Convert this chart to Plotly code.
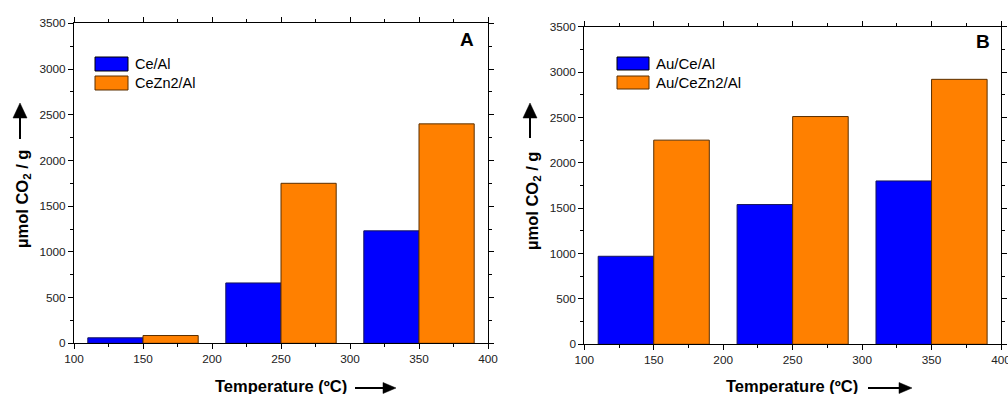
import plotly.graph_objects as go

# ---------------- data ----------------
temps = [150, 250, 350]
ce_al = [60, 660, 1230]
cezn2_al = [85, 1750, 2400]
au_ce_al = [970, 1540, 1800]
au_cezn2_al = [2250, 2510, 2920]
names_a = ["Ce/Al", "CeZn2/Al"]
names_b = ["Au/Ce/Al", "Au/CeZn2/Al"]
panel_labels = ["A", "B"]
x_ticks = [100, 150, 200, 250, 300, 350, 400]
y_ticks = [0, 500, 1000, 1500, 2000, 2500, 3000, 3500]

W, H = 1008, 394
BLUE = "#0000FF"
ORANGE = "#FF8000"
BLUE_EDGE = "#15155a"
ORANGE_EDGE = "#5a2f00"
FONT = "Liberation Sans, Arial, sans-serif"


def X(px):
    return px / W


def Y(py):
    return 1 - py / H


fig = go.Figure()

bar_w = 40
for (vals, name, col, edge, xa, ya, off) in [
    (ce_al, names_a[0], BLUE, BLUE_EDGE, "x", "y", -bar_w),
    (cezn2_al, names_a[1], ORANGE, ORANGE_EDGE, "x", "y", 0),
    (au_ce_al, names_b[0], BLUE, BLUE_EDGE, "x2", "y2", -bar_w),
    (au_cezn2_al, names_b[1], ORANGE, ORANGE_EDGE, "x2", "y2", 0),
]:
    fig.add_trace(go.Bar(
        x=temps, y=vals, name=name, width=bar_w, offset=off,
        marker=dict(color=col, line=dict(color=edge, width=1)),
        xaxis=xa, yaxis=ya, showlegend=False,
    ))

axis_common = dict(
    showline=True, linecolor="black", linewidth=1, mirror="ticks",
    ticks="outside", ticklen=5, tickwidth=1, tickcolor="black",
    showgrid=False, zeroline=False, automargin=False,
    ticklabeloverflow="allow",
    tickfont=dict(family=FONT, size=11.8, color="#222222"),
)
xminor = dict(dtick=25, ticks="outside", ticklen=3, tickwidth=1, tickcolor="black", showgrid=False)
yminor = dict(dtick=250, ticks="outside", ticklen=3, tickwidth=1, tickcolor="black", showgrid=False)

# pixel geometry of the two plot areas
pa = dict(l=74, r=488, t=23.3, b=343.3)
pb = dict(l=584.3, r=1001, t=26.7, b=344.3)

fig.update_layout(
    width=W, height=H,
    margin=dict(l=0, r=0, t=0, b=0),
    paper_bgcolor="white", plot_bgcolor="white",
    barmode="overlay",
    showlegend=False,
    xaxis=dict(domain=[X(pa["l"]), X(pa["r"])], anchor="y", range=[100, 400],
               tickvals=x_ticks, minor=xminor, **axis_common),
    yaxis=dict(domain=[Y(pa["b"]), Y(pa["t"])], anchor="x", range=[0, 3500],
               tickvals=y_ticks, minor=yminor, **axis_common),
    xaxis2=dict(domain=[X(pb["l"]), X(pb["r"])], anchor="y2", range=[100, 400],
                tickvals=x_ticks, minor=xminor, **axis_common),
    yaxis2=dict(domain=[Y(pb["b"]), Y(pb["t"])], anchor="x2", range=[0, 3500],
                tickvals=y_ticks, minor=yminor, **axis_common),
)

annotations = []
shapes = []


def add_text(px, py, text, size, bold=True, xanchor="center", angle=0):
    annotations.append(dict(
        xref="paper", yref="paper", x=X(px), y=Y(py), showarrow=False,
        text=f"<b>{text}</b>" if bold else text, textangle=angle,
        xanchor=xanchor, yanchor="middle",
        font=dict(family=FONT, size=size, color="black"),
    ))


def h_arrow(x0, x1, y, head=13, hh=11):
    shapes.append(dict(type="line", xref="paper", yref="paper",
                       x0=X(x0), x1=X(x1 - head + 1), y0=Y(y), y1=Y(y),
                       line=dict(color="black", width=2)))
    path = f"M {X(x1 - head)},{Y(y - hh / 2)} L {X(x1)},{Y(y)} L {X(x1 - head)},{Y(y + hh / 2)} Z"
    shapes.append(dict(type="path", xref="paper", yref="paper", path=path,
                       fillcolor="black", line=dict(color="black", width=0.5)))


def v_arrow(x, y0, y1, head=15, hw=14):
    # y0 bottom (larger px), y1 tip (smaller px)
    shapes.append(dict(type="line", xref="paper", yref="paper",
                       x0=X(x), x1=X(x), y0=Y(y0), y1=Y(y1 + head - 1),
                       line=dict(color="black", width=2)))
    path = f"M {X(x - hw / 2)},{Y(y1 + head)} L {X(x)},{Y(y1)} L {X(x + hw / 2)},{Y(y1 + head)} Z"
    shapes.append(dict(type="path", xref="paper", yref="paper", path=path,
                       fillcolor="black", line=dict(color="black", width=0.5)))


# axis titles
add_text(281, 386, "Temperature (ºC)", 16.5)
h_arrow(355, 396, 388)
add_text(792, 386, "Temperature (ºC)", 16.5)
h_arrow(868, 912, 388)
add_text(23, 199, "µmol CO<sub>2</sub> / g", 16.5, angle=-90)
v_arrow(20, 139, 103)
add_text(533, 201, "µmol CO<sub>2</sub> / g", 16.5, angle=-90)
v_arrow(530, 138, 103)

# panel letters
add_text(467, 40, panel_labels[0], 19)
add_text(982.5, 42, panel_labels[1], 19)

# legends (swatches + labels)
for (x0, x1, rows, names, fs) in [
    (95, 128, [(57, 71), (76, 90)], names_a, 14.5),
    (617, 649, [(57, 70), (76, 89)], names_b, 15),
]:
    for (y0, y1), name, col, edge in zip(rows, names, [BLUE, ORANGE], ["black", ORANGE_EDGE]):
        shapes.append(dict(type="rect", xref="paper", yref="paper",
                           x0=X(x0), x1=X(x1), y0=Y(y1), y1=Y(y0),
                           fillcolor=col, line=dict(color=edge, width=1)))
        add_text(x1 + 5, (y0 + y1) / 2, name, fs, bold=False, xanchor="left")

fig.update_layout(annotations=annotations, shapes=shapes)
fig.write_html("out.html")
